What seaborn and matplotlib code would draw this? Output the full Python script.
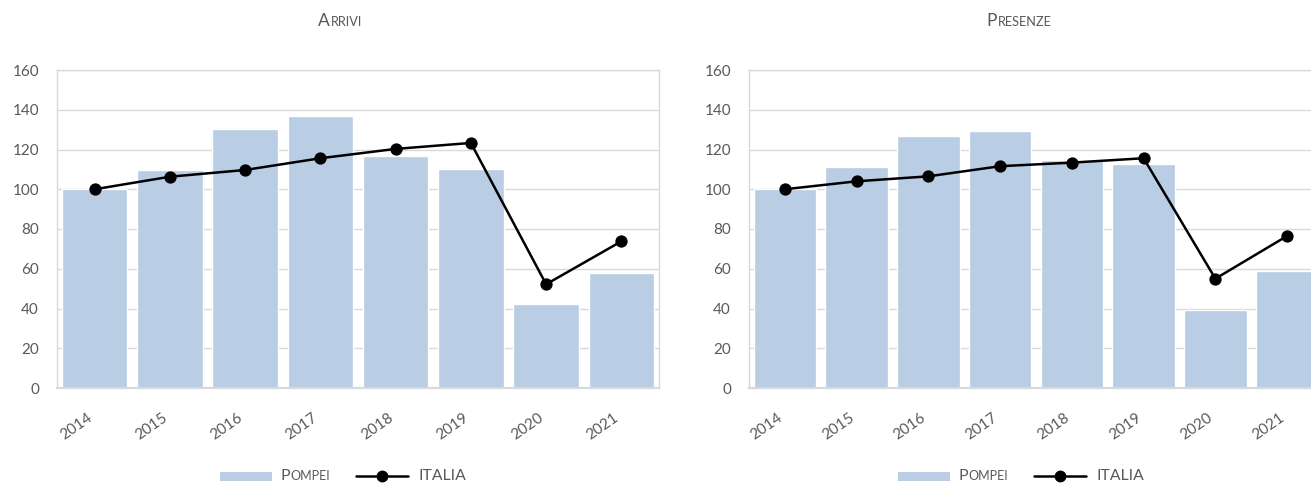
import numpy as np
import pandas as pd
import matplotlib
matplotlib.use("Agg")
import matplotlib.pyplot as plt
import seaborn as sns
from matplotlib.offsetbox import TextArea, HPacker, DrawingArea, AnnotationBbox
from matplotlib.patches import Rectangle
from matplotlib.lines import Line2D

# ---- data ----
years = ["2014", "2015", "2016", "2017", "2018", "2019", "2020", "2021"]
arrivi_pompei = [100, 109.7, 130.2, 136.8, 116.6, 110.1, 42.3, 58.1]
arrivi_italia = [100, 106.3, 109.7, 115.6, 120.3, 123.3, 52.2, 73.8]
presenze_pompei = [100, 111.1, 127.0, 129.5, 114.9, 112.6, 39.4, 58.9]
presenze_italia = [100, 104.0, 106.5, 111.6, 113.4, 115.6, 55.0, 76.5]
titles = [("A", "RRIVI"), ("P", "RESENZE")]
legend_bar = ("P", "OMPEI")
legend_line = "ITALIA"
yticks = [0, 20, 40, 60, 80, 100, 120, 140, 160]

BAR = "#B9CDE5"
GRID = "#D9D9D9"
TXT = "#595959"
W, H = 1311, 484

sns.set_theme(style="white")
plt.rcParams["font.family"] = ["Lato", "DejaVu Sans"]

fig = plt.figure(figsize=(W / 100, H / 100), dpi=100)

def fx(px):
    return px / W

def fy(py):
    return 1 - py / H

panels = [
    dict(left=57, right=659, pompei=arrivi_pompei, italia=arrivi_italia,
         title=titles[0], tcx=340, lcx=343),
    dict(left=749, right=1323, pompei=presenze_pompei, italia=presenze_italia,
         title=titles[1], tcx=1019, lcx=1021),
]

top_px, bot_px = 70, 388
PT = 0.72  # px -> pt at dpi 100

for p in panels:
    ax = fig.add_axes([fx(p["left"]), fy(bot_px), fx(p["right"] - p["left"]),
                       (bot_px - top_px) / H])
    df = pd.DataFrame({"year": years, "pompei": p["pompei"], "italia": p["italia"]})
    sns.barplot(data=df, x="year", y="pompei", color=BAR, saturation=1,
                width=0.87, ax=ax, zorder=2)
    sns.pointplot(data=df, x="year", y="italia", color="black", ax=ax,
                  errorbar=None, marker="o", markersize=7.5, linewidth=1.8)
    for coll in ax.collections:
        coll.set_zorder(4)
    for ln in ax.lines:
        ln.set_zorder(4)
    ax.set_ylim(0, 160)
    ax.set_xlim(-0.5, len(years) - 0.5)
    ax.set_yticks(yticks)
    ax.set_yticklabels([str(v) for v in yticks])
    ax.set_xlabel("")
    ax.set_ylabel("")
    ax.set_axisbelow(True)
    ax.yaxis.grid(True, color=GRID, linewidth=1.0)
    ax.xaxis.grid(False)
    for s in ax.spines.values():
        s.set_visible(True)
        s.set_color(GRID)
        s.set_linewidth(1.0)
    ax.spines["bottom"].set_linewidth(1.6)
    ax.tick_params(axis="y", length=0, pad=13, labelsize=11, labelcolor=TXT)
    ax.tick_params(axis="x", length=0, pad=16, labelsize=11, labelcolor=TXT)
    for lab in ax.get_xticklabels():
        lab.set_rotation(35)
        lab.set_ha("right")
        lab.set_va("top")

    # title in small caps
    big, small = p["title"]
    tbox = HPacker(children=[
        TextArea(big, textprops=dict(size=12.5, color=TXT)),
        TextArea(small, textprops=dict(size=9.2, color=TXT)),
    ], align="baseline", pad=0, sep=0.3)
    fig.add_artist(AnnotationBbox(tbox, (fx(p["tcx"]), fy(21)), xycoords="figure fraction",
                                  frameon=False, box_alignment=(0.5, 0.5)))

    # legend
    pw = 52 * PT
    da1 = DrawingArea(pw, 9 * PT, 0, 0)
    da1.add_artist(Rectangle((0, 0), pw, 9 * PT, facecolor=BAR, edgecolor="none"))
    lab1 = HPacker(children=[
        TextArea(legend_bar[0], textprops=dict(size=11.5, color=TXT)),
        TextArea(legend_bar[1], textprops=dict(size=9, color=TXT)),
    ], align="baseline", pad=0, sep=0.3)
    da2 = DrawingArea(pw, 9 * PT, 0, 0)
    da2.add_artist(Line2D([0, pw / 2, pw], [4.5 * PT] * 3, color="black", linewidth=1.8,
                          marker="o", markersize=7.5, markevery=[1]))
    lab2 = TextArea(legend_line, textprops=dict(size=11.3, color=TXT))
    g1 = HPacker(children=[da1, lab1], align="center", pad=0, sep=9 * PT)
    g2 = HPacker(children=[da2, lab2], align="center", pad=0, sep=10 * PT)
    lbox = HPacker(children=[g1, g2], align="center", pad=0, sep=26 * PT)
    fig.add_artist(AnnotationBbox(lbox, (fx(p["lcx"]), fy(476)), xycoords="figure fraction",
                                  frameon=False, box_alignment=(0.5, 0.5)))

fig.savefig("out.png", dpi=100, facecolor="white")
